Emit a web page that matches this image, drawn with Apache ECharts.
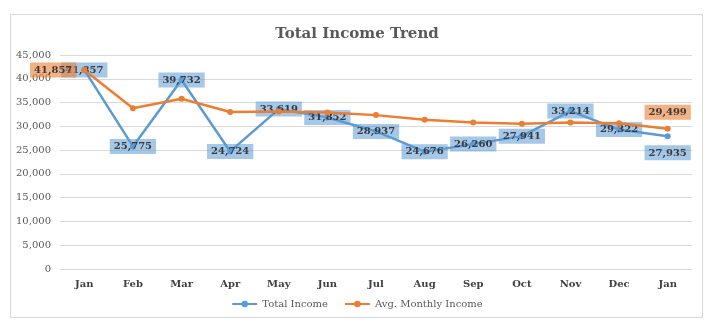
<!DOCTYPE html>
<html>
<head>
<meta charset="utf-8">
<script src="https://cdn.jsdelivr.net/npm/echarts@6/dist/echarts.min.js"></script>
<style>
  html, body { margin: 0; padding: 0; background: #fff; }
  #frame { position: absolute; left: 10px; top: 14px; width: 693px; height: 304px; border: 1px solid #d9d9d9; box-sizing: border-box; }
  #chart { position: absolute; left: 0; top: 0; width: 714px; height: 327px; }
</style>
</head>
<body>
<div id="frame"></div>
<div id="chart"></div>
<script>
const months = ['Jan', 'Feb', 'Mar', 'Apr', 'May', 'Jun', 'Jul', 'Aug', 'Sep', 'Oct', 'Nov', 'Dec', 'Jan'];
const totalIncome = [41857, 25775, 39732, 24724, 33619, 31852, 28937, 24676, 26260, 27941, 33214, 29322, 27935];
const avgMonthlyIncome = [41857, 33816, 35788, 33022, 33141, 32927, 32357, 31397, 30826, 30537, 30781, 30659, 29499];
const yTicks = { min: 0, max: 45000, interval: 5000 };

const FONT = 'Georgia, "DejaVu Serif", serif';
const BLUE = '#5b9bd5';
const ORANGE = '#ed7d31';

const fmt = v => v.toLocaleString('en-US');

const valueLabel = (bg, extra) => Object.assign({
  show: true,
  formatter: p => fmt(p.value),
  fontFamily: FONT,
  fontWeight: 'bold',
  fontSize: 10,
  color: '#3a3a3a',
  backgroundColor: bg,
  padding: [3, 4, 2, 4]
}, extra);

const blueBg = 'rgba(91,155,213,0.55)';
const orangeBg = 'rgba(237,125,49,0.6)';

const totalData = totalIncome.map((v, i) => {
  const last = i === totalIncome.length - 1;
  return {
    value: v,
    label: last ? valueLabel(blueBg, { position: 'bottom', distance: 6 }) : valueLabel(blueBg, { position: 'inside' })
  };
});

const avgData = avgMonthlyIncome.map((v, i) => {
  if (i === 0) return { value: v, label: valueLabel(orangeBg, { position: 'left', distance: 5 }) };
  if (i === avgMonthlyIncome.length - 1) return { value: v, label: valueLabel(orangeBg, { position: 'top', distance: 6 }) };
  return { value: v, label: { show: false } };
});

const chart = echarts.init(document.getElementById('chart'));
chart.setOption({
  animation: false,
  title: {
    text: 'Total Income Trend',
    left: 'center',
    top: 22,
    textStyle: { fontFamily: FONT, fontWeight: 'bold', fontSize: 15, color: '#595959' }
  },
  legend: {
    bottom: 13,
    left: 'center',
    itemWidth: 25,
    itemHeight: 8,
    itemGap: 16,
    textStyle: { fontFamily: FONT, fontSize: 10, color: '#595959' },
    data: ['Total Income', 'Avg. Monthly Income']
  },
  grid: { left: 60, right: 22, top: 55, bottom: 58, containLabel: false },
  xAxis: {
    type: 'category',
    data: months,
    boundaryGap: true,
    axisLine: { show: false },
    axisTick: { show: false },
    axisLabel: { fontFamily: FONT, fontWeight: 'bold', fontSize: 10, color: '#404040', margin: 10 }
  },
  yAxis: {
    type: 'value',
    min: yTicks.min,
    max: yTicks.max,
    interval: yTicks.interval,
    axisLine: { show: false },
    axisTick: { show: false },
    axisLabel: { fontFamily: FONT, fontSize: 10, color: '#595959', margin: 9, formatter: v => fmt(v) },
    splitLine: { lineStyle: { color: '#d9d9d9', width: 1 } }
  },
  series: [
    {
      name: 'Total Income',
      type: 'line',
      data: totalData,
      symbol: 'circle',
      symbolSize: 6,
      lineStyle: { color: BLUE, width: 2.5 },
      itemStyle: { color: BLUE },
      z: 2
    },
    {
      name: 'Avg. Monthly Income',
      type: 'line',
      data: avgData,
      symbol: 'circle',
      symbolSize: 6,
      lineStyle: { color: ORANGE, width: 2.5 },
      itemStyle: { color: ORANGE },
      z: 3
    }
  ]
});
</script>
</body>
</html>
